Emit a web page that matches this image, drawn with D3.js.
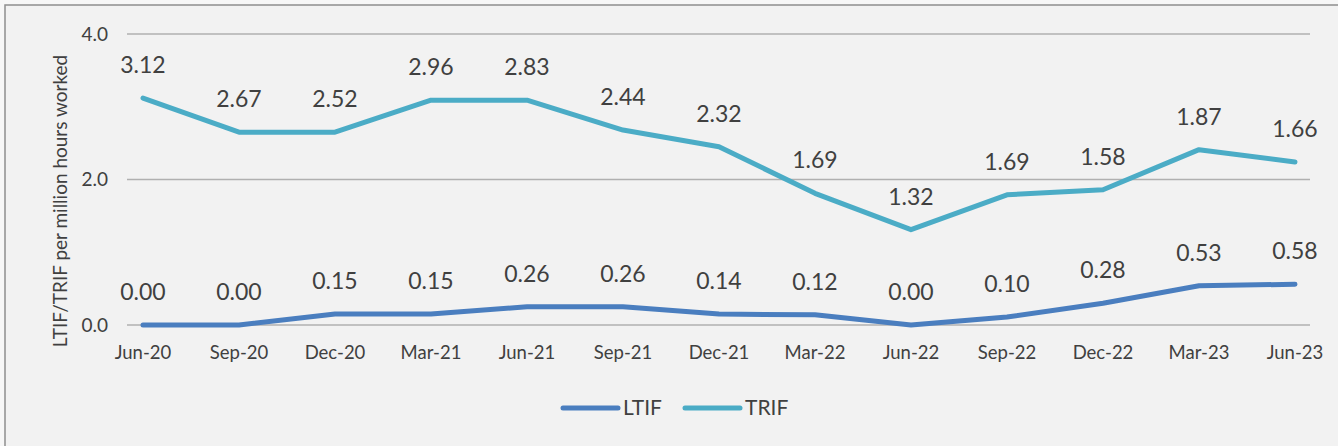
<!DOCTYPE html>
<html>
<head>
<meta charset="utf-8">
<script src="https://cdn.jsdelivr.net/npm/d3@7"></script>
<style>
  html, body { margin: 0; padding: 0; background: #f7f7f7; }
  text { font-family: Lato, "Open Sans", sans-serif; fill: #404040; }
</style>
</head>
<body>
<div id="chart"></div>
<script>
const quarters = ["Jun-20", "Sep-20", "Dec-20", "Mar-21", "Jun-21", "Sep-21", "Dec-21",
                  "Mar-22", "Jun-22", "Sep-22", "Dec-22", "Mar-23", "Jun-23"];
// line heights as drawn in the picture
const ltif = [0.00, 0.00, 0.15, 0.15, 0.25, 0.25, 0.15, 0.14, 0.00, 0.11, 0.30, 0.54, 0.56];
const trif = [3.12, 2.65, 2.65, 3.09, 3.09, 2.68, 2.45, 1.81, 1.31, 1.79, 1.86, 2.41, 2.24];
// data label texts as printed
const ltifLabels = ["0.00", "0.00", "0.15", "0.15", "0.26", "0.26", "0.14", "0.12", "0.00", "0.10", "0.28", "0.53", "0.58"];
const trifLabels = ["3.12", "2.67", "2.52", "2.96", "2.83", "2.44", "2.32", "1.69", "1.32", "1.69", "1.58", "1.87", "1.66"];
const yTicks = [0, 2, 4];

const width = 1338, height = 446;

const svg = d3.select("#chart").append("svg")
    .attr("width", width).attr("height", height);

svg.append("rect")
    .attr("x", 5).attr("y", 5)
    .attr("width", width + 10).attr("height", height + 10)
    .attr("fill", "#f2f2f2")
    .attr("stroke", "#8f8f8f")
    .attr("stroke-width", 1.5);

const x = d3.scalePoint().domain(quarters).range([143, 1295]);
const y = d3.scaleLinear().domain([0, 4]).range([325, 34]);

// gridlines
svg.append("g")
    .selectAll("line")
    .data(yTicks)
    .join("line")
    .attr("x1", 127).attr("x2", 1310)
    .attr("y1", d => y(d)).attr("y2", d => y(d))
    .attr("stroke", "#b0b0b0")
    .attr("stroke-width", 1.5);

// y axis labels
svg.append("g")
    .selectAll("text")
    .data(yTicks)
    .join("text")
    .attr("x", 108)
    .attr("y", d => y(d))
    .attr("dy", "0.35em")
    .attr("text-anchor", "end")
    .style("font-size", "19px")
    .text(d => d.toFixed(1));

// x axis labels
svg.append("g")
    .selectAll("text")
    .data(quarters)
    .join("text")
    .attr("x", d => x(d))
    .attr("y", 359)
    .attr("text-anchor", "middle")
    .style("font-size", "18.5px")
    .text(d => d);

svg.append("text")
    .attr("transform", "translate(67,201) rotate(-90)")
    .attr("text-anchor", "middle")
    .style("font-size", "19px")
    .text("LTIF/TRIF per million hours worked");

const series = [
    { name: "LTIF", values: ltif, labels: ltifLabels, color: "#4a7ebf" },
    { name: "TRIF", values: trif, labels: trifLabels, color: "#4bacc6" }
];

const line = d3.line()
    .x((d, i) => x(quarters[i]))
    .y(d => y(d));

series.forEach(s => {
    svg.append("path")
        .datum(s.values)
        .attr("fill", "none")
        .attr("stroke", s.color)
        .attr("stroke-width", 5)
        .attr("stroke-linejoin", "round")
        .attr("stroke-linecap", "round")
        .attr("d", line);

    svg.append("g")
        .selectAll("text")
        .data(s.values)
        .join("text")
        .attr("x", (d, i) => x(quarters[i]))
        .attr("y", d => y(d) - 25)
        .attr("text-anchor", "middle")
        .style("font-size", "23px")
        .text((d, i) => s.labels[i]);
});

// legend
const legend = svg.append("g")
    .selectAll("g")
    .data(series)
    .join("g")
    .attr("transform", (d, i) => `translate(${563 + i * 122},408)`);

legend.append("line")
    .attr("x1", 0).attr("x2", 55)
    .attr("stroke", d => d.color)
    .attr("stroke-width", 5)
    .attr("stroke-linecap", "round");

legend.append("text")
    .attr("x", 60)
    .attr("dy", "0.35em")
    .style("font-size", "21px")
    .text(d => d.name);
</script>
</body>
</html>
